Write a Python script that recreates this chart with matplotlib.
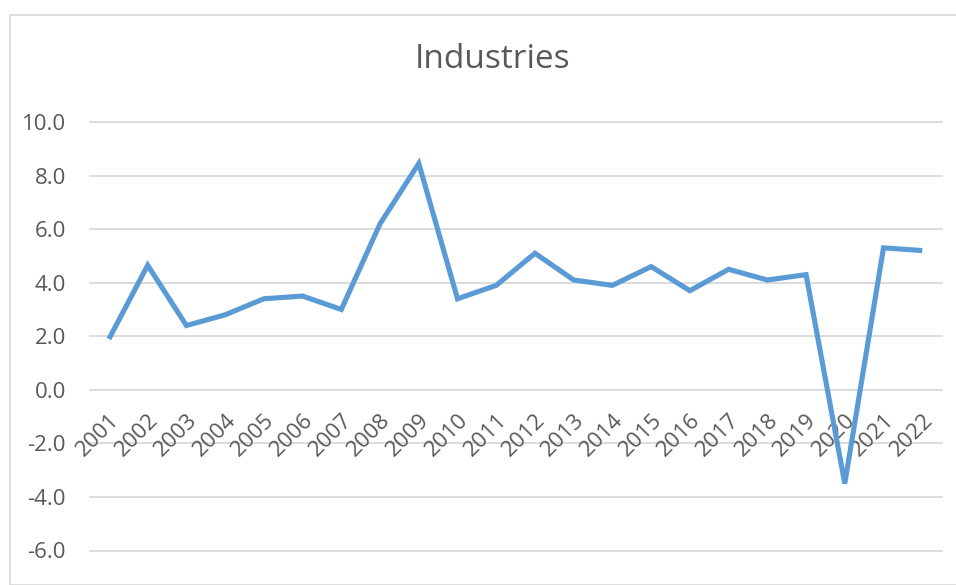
import matplotlib
matplotlib.use("Agg")
import matplotlib.pyplot as plt
from matplotlib.patches import Rectangle

years = [str(y) for y in range(2001, 2023)]
growth = [1.9, 4.65, 2.4, 2.8, 3.4, 3.5, 3.0, 6.2, 8.45, 3.4, 3.9,
          5.1, 4.1, 3.9, 4.6, 3.7, 4.5, 4.1, 4.3, -3.5, 5.3, 5.2]
yticks = [-6, -4, -2, 0, 2, 4, 6, 8, 10]

plt.rcParams["font.family"] = ["Open Sans", "DejaVu Sans"]
plt.rcParams["axes.unicode_minus"] = False

text_col = "#595959"
grid_col = "#D9D9D9"
line_col = "#5B9BD5"

fig = plt.figure(figsize=(9.56, 5.85), dpi=100)
fig.patches.append(Rectangle((10 / 956, 0), 1.2, 1 - 15 / 585, transform=fig.transFigure,
                             fill=False, edgecolor=grid_col, linewidth=1.2))

ax = fig.add_axes([89.6 / 956, 1 - 550.5 / 585, 852 / 956, 428.5 / 585])
x = list(range(len(years)))
ax.plot(x, growth, color=line_col, linewidth=3.7, solid_joinstyle="miter",
        solid_capstyle="butt", zorder=3)

ax.set_xlim(-0.5, len(years) - 0.5)
ax.set_ylim(-6, 10)
ax.set_yticks(yticks)
ax.set_yticklabels([f"{v:.1f}" for v in yticks])
for v in yticks:
    ax.axhline(v, color=grid_col, linewidth=1.3, zorder=1, clip_on=False)

for s in ax.spines.values():
    s.set_visible(False)
ax.spines["bottom"].set_position(("data", 0))
ax.set_xticks(x)
ax.set_xticklabels(years, rotation=45, ha="right", va="top", rotation_mode="anchor")
ax.tick_params(axis="x", length=0, pad=14, labelsize=16, labelcolor=text_col)
ax.tick_params(axis="y", length=0, pad=17, labelsize=16, labelcolor=text_col)

fig.text(493 / 956, 1 - 68 / 585, "Industries", ha="center", va="baseline",
         fontsize=24, color=text_col)

fig.savefig("out.png", dpi=100)
